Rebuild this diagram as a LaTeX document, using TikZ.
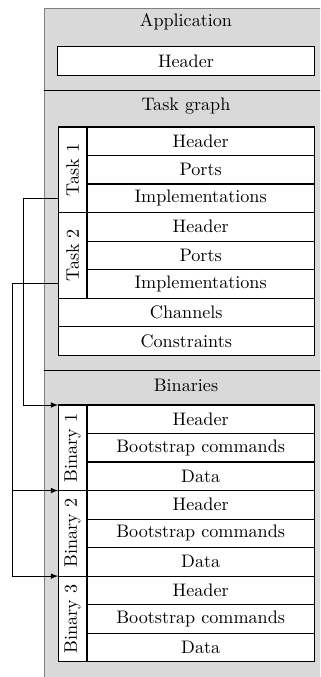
\documentclass[tikz,border=0pt]{standalone}
\usepackage{graphicx}
\usepackage{tikz}
\usetikzlibrary{positioning, calc, arrows}

\begin{document}
\begin{tikzpicture}[x=0.0194cm, y=-0.0194cm]
			\tikzstyle{field}=[draw=black, semithick, fill=white, minimum height=5.53mm, minimum width=44.1mm, inner sep=0pt, outer sep=0pt, text=black]
			\tikzstyle{wide}=[field, minimum width=49.7mm]
			\tikzstyle{tag}=[draw=black, semithick, fill=white, minimum width=5.6mm, minimum height=16.59mm, inner sep=0pt, outer sep=0pt, anchor=north east]
			
			\clip (0,0) rectangle (320,677);
			\fill[black!15] (44,8) rectangle (330,690);
			\draw[gray] (330,8) -- (44,8) -- (44,690);
			\draw (44,90) -- (330,90);
			\draw (44,370) -- (330,370);
			
			% application
			\node (app) at (186,22) {Application};
			\node (apphdr) at (186,61) [wide] {Header};
			
			% task graph
			\node (tg) at (186,106) {Task graph};
			\node (t1h) at (87,127) [field, anchor=north west] {Header};
			\node (t1p) [field, below=0pt of t1h] {Ports};
			\node (t1i) [field, below=0pt of t1p] {Implementations};
			\node (t2h) [field, below=0pt of t1i] {Header};
			\node (t2p) [field, below=0pt of t2h] {Ports};
			\node (t2i) [field, below=0pt of t2p] {Implementations};
			\node (t1) at (t1h.north west) [tag] {\rotatebox{90}{Task 1}};
			\node (t2) at (t2h.north west) [tag] {\rotatebox{90}{Task 2}};
			\node (chan) [wide, below=0pt of t2.south west, anchor=north west] {Channels};
			\node (cons) [wide, below=0pt of chan] {Constraints};
			
			% binaries
			\node (bin) at (186,385) {Binaries};
			\node (b1h) at (87,405) [field, anchor=north west] {Header};
			\node (b1c) [field, below=0pt of b1h] {Bootstrap commands};
			\node (b1d) [field, below=0pt of b1c] {Data};
			\node (b2h) [field, below=0pt of b1d] {Header};
			\node (b2c) [field, below=0pt of b2h] {Bootstrap commands};
			\node (b2d) [field, below=0pt of b2c] {Data};
			\node (b3h) [field, below=0pt of b2d] {Header};
			\node (b3c) [field, below=0pt of b3h] {Bootstrap commands};
			\node (b3d) [field, below=0pt of b3c] {Data};
			\node (b1) at (b1h.north west) [tag] {\rotatebox{90}{Binary 1}};
			\node (b2) at (b2h.north west) [tag] {\rotatebox{90}{Binary 2}};
			\node (b3) at (b3h.north west) [tag] {\rotatebox{90}{Binary 3}};
			
			\draw [-latex] (t1.west |- t1i.west) -- ++(-35,0) |- (b1.north west);
			\draw [-latex] (t2.west |- t2i.west) -- ++(-46,0) coordinate (t2out) |- (b3.north west);
			\draw [-latex] (t2out |- b2.north west) -- (b2.north west);
			
\end{tikzpicture}
\end{document}
